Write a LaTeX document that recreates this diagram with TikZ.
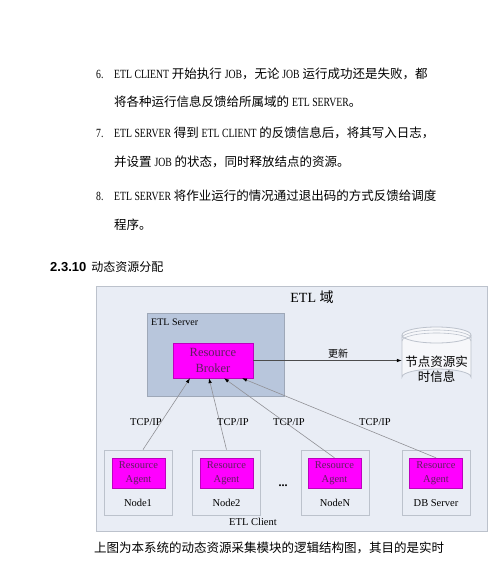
\documentclass[tikz,border=0pt]{standalone}
\usepackage{fontspec}
\setmainfont{Liberation Serif}
\newfontfamily\cjk{Noto Sans CJK SC}
\newfontfamily\narrowlat[FakeStretch=0.78]{Liberation Serif}
\newfontfamily\headsans{Liberation Sans}
\usetikzlibrary{arrows.meta}
\definecolor{zonefill}{RGB}{233,237,245}
\definecolor{zoneline}{RGB}{188,194,204}
\definecolor{serverfill}{RGB}{184,198,220}
\definecolor{serverline}{RGB}{158,168,184}
\definecolor{magfill}{RGB}{255,0,255}
\definecolor{magline}{RGB}{190,0,190}
\definecolor{magtext}{RGB}{95,30,95}
\definecolor{linkgrey}{RGB}{145,145,150}
\definecolor{cylfill}{RGB}{246,247,250}
\newcommand{\en}[1]{{\narrowlat #1}}
\newcommand{\itemno}[1]{\makebox[18pt][l]{\narrowlat #1}}

\begin{document}
\begin{tikzpicture}[x=1pt, y=-1pt,
    para/.style={anchor=west, inner sep=0pt, font=\cjk\fontsize{12.5}{15}\selectfont},
    zonebox/.style={draw=zoneline, fill=zonefill, line width=0.8pt},
    serverbox/.style={draw=serverline, fill=serverfill, line width=0.8pt},
    magbox/.style={draw=magline, fill=magfill, text=magtext, align=center, inner sep=0pt},
    hostbox/.style={draw=zoneline, fill=zonefill, line width=0.8pt, minimum width=68pt, minimum height=65pt, inner sep=0pt},
    agent/.style={magbox, minimum width=53pt, minimum height=30pt, font=\fontsize{10.5}{13.5}\selectfont},
    tag/.style={inner sep=1pt, font=\fontsize{10.5}{12}\selectfont},
    link/.style={draw=linkgrey, line width=0.6pt, -{Latex[length=5pt,width=3.5pt,black]}}]
    \useasboundingbox[fill=white] (0,0) rectangle (500,565);

    % text above the figure
    \node[para] (p6a) at (96,74) {\itemno{6.}\en{ETL CLIENT} 开始执行 \en{JOB}，无论 \en{JOB} 运行成功还是失败，都};
    \node[para] (p6b) at (114,102) {将各种运行信息反馈给所属域的 \en{ETL SERVER}。};
    \node[para] (p7a) at (96,133) {\itemno{7.}\en{ETL SERVER} 得到 \en{ETL CLIENT} 的反馈信息后，将其写入日志，};
    \node[para] (p7b) at (114,162) {并设置 \en{JOB} 的状态，同时释放结点的资源。};
    \node[para] (p8a) at (96,196) {\itemno{8.}\en{ETL SERVER} 将作业运行的情况通过退出码的方式反馈给调度};
    \node[para] (p8b) at (114,225) {程序。};
    \node[anchor=west, inner sep=0pt] (sechead) at (50,267)
        {\headsans\bfseries\fontsize{13}{15}\selectfont 2.3.10\hspace{5pt}{\cjk\mdseries\fontsize{12}{15}\selectfont 动态资源分配}};

    % ETL domain
    \draw[zonebox] (96,286) rectangle (487,531);
    \node[font=\fontsize{14}{16}\selectfont] (domtitle) at (312,297) {ETL {\cjk 域}};
    \draw[serverbox] (147,313) rectangle (284,396);
    \node[tag, anchor=west, font=\fontsize{10}{12}\selectfont] (srvtitle) at (150,322) {ETL Server};

    \node[magbox, minimum width=80pt, minimum height=35pt, font=\fontsize{12.5}{16}\selectfont] (broker) at (213,360.5) {Resource\\Broker};

    % node info store
    \draw[draw=zoneline, fill=cylfill, line width=0.8pt] (402,335) -- (402,377) arc (180:360:34.5 and 8) -- (471,335);
    \draw[draw=zoneline, fill=cylfill, line width=0.8pt] (436.5,335) ellipse (34.5 and 8);
    \draw[draw=zoneline, line width=0.6pt] (402,338) arc (180:360:34.5 and 8);
    \draw[draw=zoneline, line width=0.6pt] (402,341) arc (180:360:34.5 and 8);
    \node[align=center, inner sep=0pt, minimum width=69pt, minimum height=34pt, font=\cjk\fontsize{12.5}{15.5}\selectfont] (info) at (436.5,369) {节点资源实\\时信息};

    \draw[draw=black!70, line width=0.6pt, -{Latex[length=5pt,width=3.5pt,black]}] (broker) -- (info.west |- broker);
    \node[font=\cjk\fontsize{10}{12}\selectfont] (upd) at (338,354) {更新};

    % hosts
    \node[hostbox] (host-1) at (138,482.5) {};
    \node[hostbox] (host-2) at (226.5,482.5) {};
    \node[hostbox] (host-n) at (335,482.5) {};
    \node[hostbox] (host-db) at (436,482.5) {};

    \node[agent] (agent-1) at (138.5,473) {Resource\\Agent};
    \node[agent] (agent-2) at (226.5,473) {Resource\\Agent};
    \node[agent] (agent-n) at (334.5,473) {Resource\\Agent};
    \node[agent] (agent-db) at (436,473) {Resource\\Agent};

    \node[tag] (lab-1) at (138,503) {Node1};
    \node[tag] (lab-2) at (226.5,503) {Node2};
    \node[tag] (lab-n) at (335,503) {NodeN};
    \node[tag] (lab-db) at (436,503) {DB Server};
    \node[tag, font=\bfseries\fontsize{12}{12}\selectfont] (dots) at (283,486) {...};
    \node[tag] (client) at (253,522) {ETL Client};

    \draw[link] (host-1.north) ++(5,0) -- ([xshift=-23pt]broker.south);
    \draw[link] (host-2.north) -- ([xshift=-4pt]broker.south);
    \draw[link] (agent-n.north) -- ([xshift=11pt]broker.south);
    \draw[link] (agent-db.north) -- ([xshift=29pt]broker.south);

    \node[tag] (tcp-1) at (146,422) {TCP/IP};
    \node[tag] (tcp-2) at (233,422) {TCP/IP};
    \node[tag] (tcp-n) at (289,422) {TCP/IP};
    \node[tag] (tcp-db) at (375,422) {TCP/IP};

    % text below the figure
    \node[para] (caption) at (94,548) {上图为本系统的动态资源采集模块的逻辑结构图，其目的是实时};
\end{tikzpicture}
\end{document}
